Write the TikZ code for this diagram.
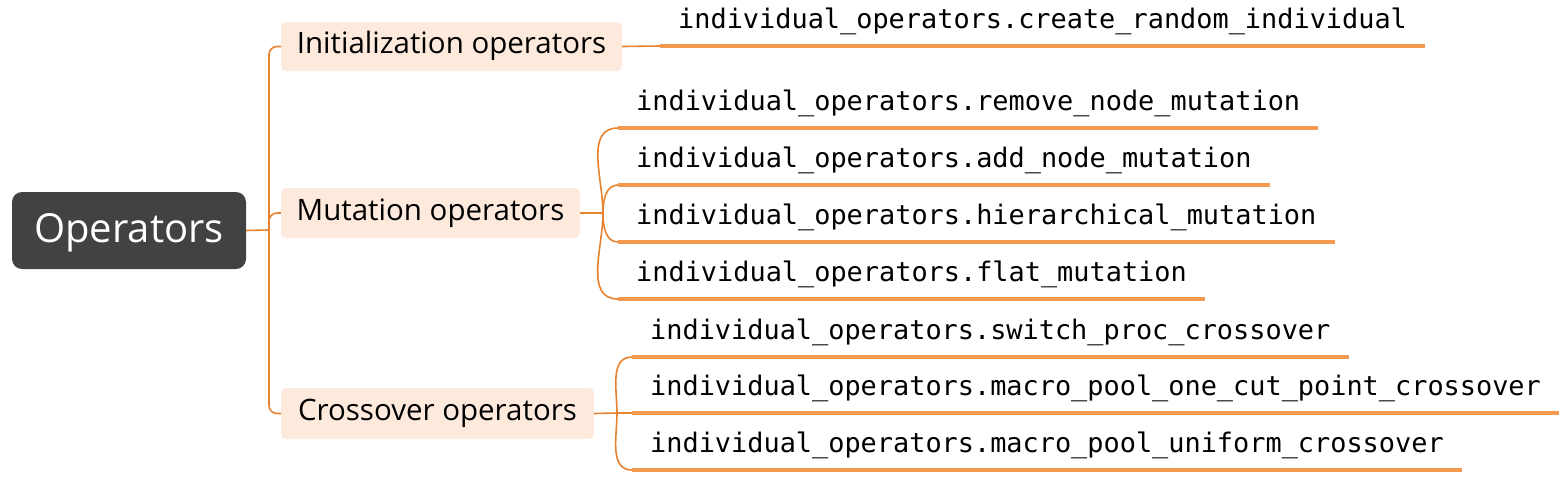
\documentclass[tikz,border=0pt]{standalone}
\usepackage{fontspec}
\setmainfont{Open Sans}
\newfontfamily\monofont{DejaVu Sans Mono}
\definecolor{rootfill}{HTML}{424242}
\definecolor{boxfill}{HTML}{FDEADC}
\definecolor{connc}{HTML}{E8822E}
\definecolor{underc}{HTML}{F39A50}
\begin{document}
\begin{tikzpicture}[x=1pt,y=-1pt,
  rootbox/.style={fill=rootfill,rounded corners=10pt,text=white,inner sep=0pt,
    text height=30pt,text depth=5.2pt,
    font=\fontsize{40}{46}\selectfont},
  catbox/.style={fill=boxfill,rounded corners=5pt,text=black,inner sep=0pt,
    text height=21.2pt,text depth=7.2pt,
    font=\fontsize{29.5}{35}\selectfont},
  leaf/.style={anchor=south west,inner xsep=18pt,inner ysep=0pt,text height=20pt,text depth=17pt,
    font=\monofont\fontsize{26.9}{32}\selectfont},
  conn/.style={draw=connc,line width=1.6pt},
  under/.style={draw=underc,line width=4.5pt},
]
\useasboundingbox (0,0) rectangle (1560,480);

\node[rootbox,minimum width=234pt,minimum height=77pt] (root) at (129,230.5) {Operators};
\node[catbox,minimum width=341pt,minimum height=49pt] (init) at (451.5,46.5) {Initialization operators};
\node[catbox,minimum width=299pt,minimum height=50pt] (mut) at (430.5,213) {Mutation operators};
\node[catbox,minimum width=313pt,minimum height=51pt] (cross) at (437.5,413.5) {Crossover operators};

\coordinate (tj) at (269,230);
\draw[conn] (root.east) -- (tj);
\draw[conn,rounded corners=8pt] (tj) |- (init.west);
\draw[conn,rounded corners=8pt] (tj) |- (mut.west);
\draw[conn,rounded corners=8pt] (tj) |- (cross.west);

% initialization
\node[leaf] (i1) at (660,46) {individual\_operators.create\_random\_individual};
\draw[under] (i1.south west) -- (i1.south east);
\draw[conn] (init.east) -- (i1.south west);

% mutation
\node[leaf] (m1) at (618,128) {individual\_operators.remove\_node\_mutation};
\node[leaf] (m2) at (618,185) {individual\_operators.add\_node\_mutation};
\node[leaf] (m3) at (618,242) {individual\_operators.hierarchical\_mutation};
\node[leaf] (m4) at (618,299) {individual\_operators.flat\_mutation};
\foreach \n in {m1,m2,m3,m4} {\draw[under] (\n.south west) -- (\n.south east);}
\coordinate (mj) at (603,213);
\draw[conn] (mut.east) -- (mj);
\draw[conn] (mj) to[out=90,in=180] (m1.south west);
\draw[conn] (mj) to[out=90,in=180] (m2.south west);
\draw[conn] (mj) to[out=-90,in=180] (m3.south west);
\draw[conn] (mj) to[out=-90,in=180] (m4.south west);

% crossover
\node[leaf] (c1) at (632,357) {individual\_operators.switch\_proc\_crossover};
\node[leaf] (c2) at (632,413) {individual\_operators.macro\_pool\_one\_cut\_point\_crossover};
\node[leaf] (c3) at (632,470) {individual\_operators.macro\_pool\_uniform\_crossover};
\foreach \n in {c1,c2,c3} {\draw[under] (\n.south west) -- (\n.south east);}
\coordinate (cj) at (617,413);
\draw[conn] (cross.east) -- (cj);
\draw[conn] (cj) to[out=90,in=180] (c1.south west);
\draw[conn] (cj) -- (c2.south west);
\draw[conn] (cj) to[out=-90,in=180] (c3.south west);
\end{tikzpicture}
\end{document}
